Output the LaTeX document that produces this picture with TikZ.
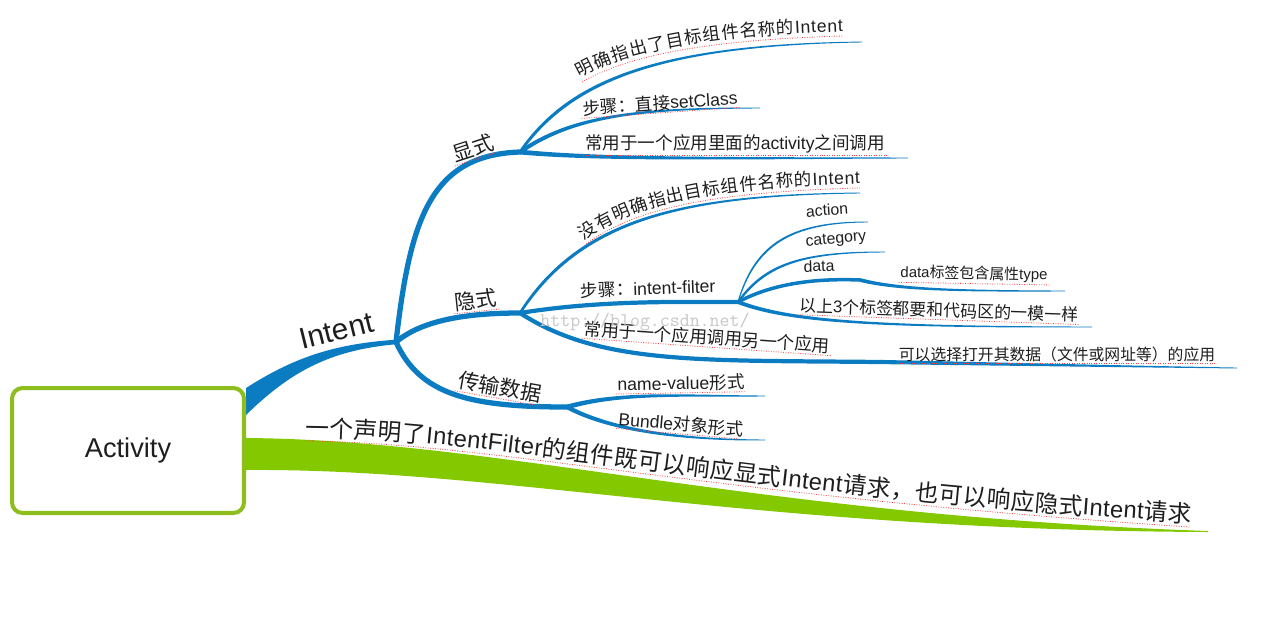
\documentclass[tikz,border=0pt]{standalone}
\usepackage{fontspec}
\setmainfont{Liberation Sans}
\newfontfamily\cjk{Noto Sans CJK SC}
\usetikzlibrary{decorations.text}

\definecolor{mapblue}{RGB}{12,124,194}
\definecolor{mapgreen}{RGB}{132,200,0}
\definecolor{boxgreen}{RGB}{141,190,30}
\definecolor{inkgray}{RGB}{30,30,30}

\newcommand\zh[1]{{\cjk #1}}
\newcommand\fsz[1]{\fontsize{#1}{#1}\selectfont}
\newcommand\lzh{\fsz{10}\cjk}
\newcommand\len{\fsz{10}\rmfamily}
\newcommand\gzh{\fsz{13.5}\cjk}
\newcommand\gen{\fsz{13.5}\rmfamily}
% tapered leaf: [half width] start, ctrl 1, ctrl 2, end
\newcommand\leaf[5][1.4pt]{%
  \fill[mapblue] ([yshift=#1]#2) .. controls ([yshift=0.75*#1]#3) and ([yshift=0.45*#1]#4) .. ([yshift=0.25pt]#5)
    -- ([yshift=-0.25pt]#5) .. controls ([yshift=-0.45*#1]#4) and ([yshift=-0.75*#1]#3) .. ([yshift=-#1]#2) -- cycle;}

\begin{document}
\begin{tikzpicture}[
    x=0.02cm, y=-0.02cm,
    branch/.style={draw=mapblue, line width=3pt, line cap=round},
    stem/.style={draw=mapblue, line width=2.4pt, line cap=round},
    spell/.style={draw=red!75, line width=0.45pt, dash pattern=on 0.5pt off 0.9pt},
    uline/.style={append after command={(\tikzlastnode.south west) edge[spell] (\tikzlastnode.south east)}},
    lbl/.style={inner sep=0.8pt, text=inkgray},
    lvltwo/.style={lbl, uline, font=\fsz{12}},
    leaftext/.style={lbl, uline, font=\fsz{10}},
    tag/.style={lbl, font=\fsz{9}},
    along/.style={spell, postaction={decorate, decoration={text along path,
        text align={fit to path}, raise=2.5pt, text color=inkgray, text={#1}}}},
    rootbox/.style={draw=boxgreen, line width=2.3pt, rounded corners=6pt, fill=white,
        minimum width=4.64cm, minimum height=2.5cm, font=\fsz{15.5}, text=inkgray}
  ]
  \useasboundingbox (0,0) rectangle (1271,623);

  % hubs and ends
  \coordinate (hub) at (396,342);
  \coordinate (xs) at (520,152);
  \coordinate (ys) at (520,313);
  \coordinate (cs) at (567,407);
  \coordinate (filt) at (738,302);
  \coordinate (dhub) at (860,280);
  \coordinate (ohub) at (880,362);
  \coordinate (xsA) at (862,42);
  \coordinate (xsB) at (760,108);
  \coordinate (xsC) at (908,158);
  \coordinate (ysA) at (860,193);
  \coordinate (act) at (868,222);
  \coordinate (cat) at (885,252);
  \coordinate (dat) at (1065,291);
  \coordinate (same) at (1092,327);
  \coordinate (openA) at (1237,368);
  \coordinate (nv) at (765,396);
  \coordinate (bd) at (765,440);
  \coordinate (gEnd) at (1208,531);

  % trunks out of the root
  \fill[mapblue] (246,388) .. controls (290,360) and (330,344) .. ([yshift=1.3pt]hub)
    -- ([yshift=-1.3pt]hub) .. controls (330,350) and (290,372) .. (246,415) -- cycle;
  \fill[mapgreen] (246,438) .. controls (500,440) and (750,515) .. (gEnd)
    -- (1208,532) .. controls (750,530) and (500,468) .. (246,470) -- cycle;

  \node[rootbox] (activity) at (128,450.5) {Activity};

  % first level
  \draw[branch] (hub) .. controls (410,220) and (430,155) .. (xs);
  \draw[branch] (hub) .. controls (420,322) and (460,313) .. (ys);
  \draw[branch] (hub) .. controls (420,395) and (470,407) .. (cs);

  % explicit
  \leaf{xs}{570,80}{660,45}{xsA}
  \leaf{xs}{570,118}{630,108}{xsB}
  \leaf{xs}{600,160}{750,158}{xsC}

  % implicit
  \leaf{ys}{580,220}{680,195}{ysA}
  \draw[stem] (ys) .. controls (600,300) and (680,302) .. (filt);
  \draw[stem] (ys) .. controls (600,365) and (700,360) .. (ohub);
  \leaf[1.2pt]{ohub}{1000,364}{1100,366}{openA}
  \leaf[1.1pt]{filt}{755,245}{790,222}{act}
  \leaf[1.1pt]{filt}{765,265}{800,252}{cat}
  \draw[stem, line width=2pt] (filt) .. controls (770,285) and (810,278) .. (dhub);
  \leaf[1.1pt]{dhub}{900,290}{960,291}{dat}
  \leaf[1.2pt]{filt}{790,322}{880,327}{same}

  % passing data
  \leaf{cs}{620,392}{680,396}{nv}
  \leaf{cs}{610,430}{680,440}{bd}

  % labels
  \node[lbl, font=\fsz{17}, anchor=base west, rotate=14] (lblIntent) at (301,350) {Intent};
  \node[lvltwo, rotate=18] (lblXs) at (473,148) {\zh{显式}};
  \node[lvltwo, rotate=6] (lblYs) at (476,300) {\zh{隐式}};
  \node[lvltwo, rotate=-10] (lblCs) at (500,387) {\zh{传输数据}};

  \draw[along={|\lzh|明确指出了目标组件名称的|\len|Intent}] (582,82) .. controls (625,57) and (700,40) .. (843,36);
  \node[leaftext, rotate=4] (lblStepA) at (660,103) {\zh{步骤：直接}setClass};
  \node[leaftext] (lblUseA) at (735,144) {\zh{常用于一个应用里面的}activity\zh{之间调用}};

  \draw[along={|\lzh|没有明确指出目标组件名称的|\len|Intent}] (586,244) .. controls (630,212) and (700,192) .. (860,188);
  \node[lbl, font=\fsz{10}, rotate=2] (lblStepB) at (648,288) {\zh{步骤：}intent-filter};
  \node[leaftext, rotate=-4] (lblUseB) at (707,337) {\zh{常用于一个应用调用另一个应用}};
  \node[lbl, font=\fsz{9}] (lblOpen) at (1057,354) [uline] {\zh{可以选择打开其数据（文件或网址等）的应用}};

  \node[tag, rotate=4] (lblAct) at (827,210) {action};
  \node[tag, rotate=5] (lblCat) at (836,240) {category};
  \node[tag, rotate=2] (lblDat) at (819,266) {data};
  \node[lbl, uline, font=\fsz{8.5}, rotate=-1] (lblType) at (974,274) {data\zh{标签包含属性}type};
  \node[lbl, uline, font=\fsz{9.6}, rotate=-2] (lblSame) at (939,310) {\zh{以上}3\zh{个标签都要和代码区的一模一样}};

  \node[leaftext, rotate=1] (lblNv) at (681,383) {name-value\zh{形式}};
  \node[leaftext, rotate=-5] (lblBd) at (681,424) {Bundle\zh{对象形式}};

  \draw[along={|\gzh|一个声明了|\gen|IntentFilter|\gzh|的组件既可以响应显式|\gen|Intent|\gzh|请求，也可以响应隐式|\gen|Intent|\gzh|请求}]
    (305,441) .. controls (500,443) and (700,495) .. (1190,527);

  \node[font=\ttfamily\fsz{11}, text=gray!45] (mark) at (645,322) {http://blog.csdn.net/};

\end{tikzpicture}
\end{document}
